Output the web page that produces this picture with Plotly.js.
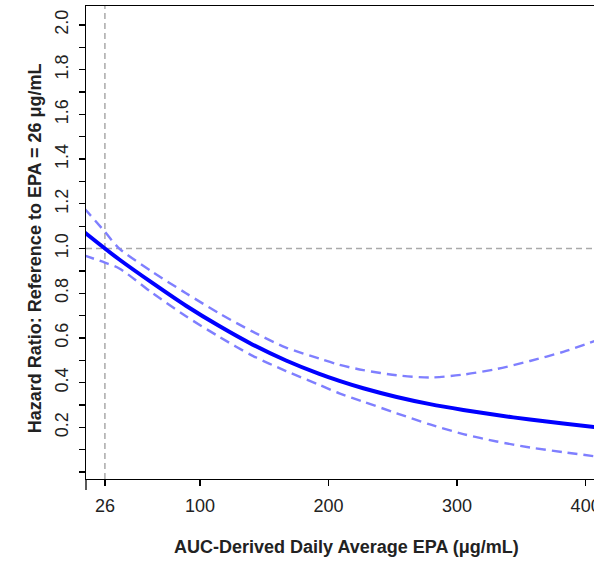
<!DOCTYPE html>
<html>
<head>
<meta charset="utf-8">
<script src="https://cdn.plot.ly/plotly-3.0.1.min.js"></script>
<style>html,body{margin:0;padding:0;background:#fff;}#chart{width:594px;height:561px;}</style>
</head>
<body>
<div id="chart"></div>
<script>
// EPA (µg/mL) grid
var epa = [10, 26, 37.2, 63.2, 89.1, 115, 141, 166.9, 192.8, 208.4, 227, 253, 278.9, 304.8, 330.8, 356.7, 382.6, 408];
// Hazard ratio estimate
var hr = [1.073, 1.0, 0.951, 0.845, 0.744, 0.653, 0.570, 0.499, 0.439, 0.408, 0.375, 0.336, 0.304, 0.278, 0.255, 0.235, 0.217, 0.201];
// Upper 95% CI
var upper = [1.18, 1.075, 1.0, 0.895, 0.80, 0.71, 0.628, 0.557, 0.508, 0.480, 0.456, 0.433, 0.423, 0.436, 0.461, 0.497, 0.538, 0.588];
// Lower 95% CI
var lower = [0.969, 0.937, 0.911, 0.80, 0.697, 0.605, 0.52, 0.452, 0.39, 0.352, 0.315, 0.263, 0.213, 0.170, 0.137, 0.110, 0.089, 0.070];

var refX = 26, refY = 1.0;
var xTicks = [26, 100, 200, 300, 400];
var yTickVals = [];
var yTickText = [];
for (var i = 0; i <= 20; i++) {
  var v = i / 10;
  yTickVals.push(v);
  yTickText.push((i % 2 === 0 && i > 0) ? v.toFixed(1) : '');
}

var txt = '#222';
var data = [
  {x: epa, y: upper, mode: 'lines', line: {color: '#7f7fff', width: 2.4, dash: '10px,6px', shape: 'spline', smoothing: 0.8}, hoverinfo: 'skip'},
  {x: epa, y: lower, mode: 'lines', line: {color: '#7f7fff', width: 2.4, dash: '10px,6px', shape: 'spline', smoothing: 0.8}, hoverinfo: 'skip'},
  {x: epa, y: hr, mode: 'lines', line: {color: '#0000ff', width: 4, shape: 'spline', smoothing: 0.8}, hoverinfo: 'skip'}
];

var layout = {
  width: 594, height: 561,
  margin: {l: 86, r: 0, t: 6, b: 82},
  paper_bgcolor: '#fff', plot_bgcolor: '#fff',
  showlegend: false,
  font: {family: 'Liberation Sans, Arial, sans-serif', size: 18, color: txt},
  xaxis: {
    range: [11.3, 406.5], showgrid: false, zeroline: false,
    showline: true, linecolor: '#000', linewidth: 1.3, mirror: true,
    ticks: 'outside', ticklen: 6, tickwidth: 1.3, tickcolor: '#000',
    tickvals: xTicks, ticktext: xTicks.map(String), ticklabelstandoff: 4,
    ticklabeloverflow: 'allow',
    tickfont: {size: 18, color: txt}
  },
  yaxis: {
    range: [-0.031, 2.085], showgrid: false, zeroline: false,
    showline: true, linecolor: '#000', linewidth: 1.3,
    ticks: 'outside', ticklen: 6, tickwidth: 1.3, tickcolor: '#000',
    tickvals: yTickVals, ticktext: yTickText, tickangle: -90, ticklabelstandoff: 4,
    tickfont: {size: 18, color: txt}
  },
  shapes: [
    {type: 'line', xref: 'x', yref: 'paper', x0: refX, x1: refX, y0: 0, y1: 1,
     line: {color: '#aaaaaa', width: 1.5, dash: '6px,4px'}, layer: 'below'},
    {type: 'line', xref: 'paper', yref: 'y', x0: 0, x1: 1, y0: refY, y1: refY,
     line: {color: '#aaaaaa', width: 1.5, dash: '6px,4px'}, layer: 'below'},
    {type: 'line', xref: 'paper', yref: 'paper', x0: 0, x1: 0, y0: -0.0233, y1: 0,
     line: {color: '#000', width: 1.3}}
  ],
  annotations: [
    {text: '<b>AUC-Derived Daily Average EPA (μg/mL)</b>', xref: 'paper', yref: 'paper',
     x: 0.512, y: -0.1438, xanchor: 'center', yanchor: 'middle', showarrow: false,
     font: {size: 18, color: txt}},
    {text: '<b>Hazard Ratio: Reference to EPA = 26 μg/mL</b>', xref: 'paper', yref: 'paper',
     x: -0.1004, y: 0.488, xanchor: 'center', yanchor: 'middle', showarrow: false,
     textangle: -90, font: {size: 18, color: txt}}
  ]
};

Plotly.newPlot('chart', data, layout, {displayModeBar: false, staticPlot: true});
</script>
</body>
</html>
